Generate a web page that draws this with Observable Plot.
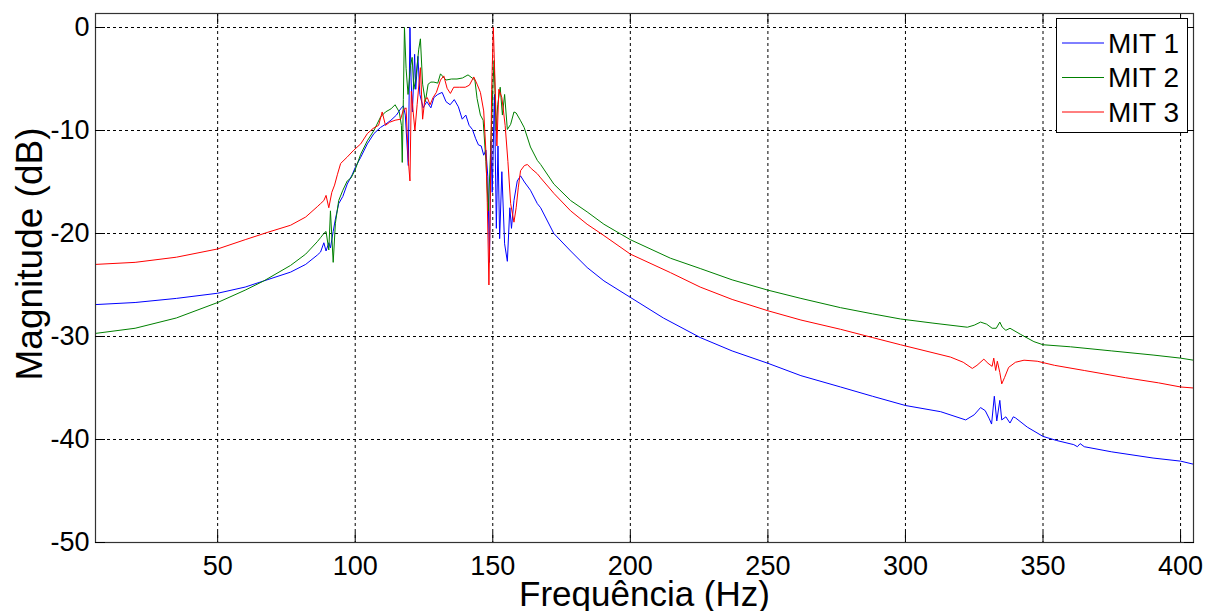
<!DOCTYPE html>
<html><head><meta charset="utf-8">
<script src="https://cdn.jsdelivr.net/npm/d3@7"></script>
<script src="https://cdn.jsdelivr.net/npm/@observablehq/plot@0.6"></script>
<style>
body{margin:0;background:#fff;}
#wrap{position:relative;width:1214px;height:611px;overflow:hidden;font-family:Arial,"Liberation Sans",sans-serif;}
#wrap svg{display:block;}
</style></head><body><div id="wrap"></div>
<script>
const seriesNames = ["MIT 1", "MIT 2", "MIT 3"];
const seriesColors = ["#0000ff", "#008000", "#ff0000"];
const xTicks = [50, 100, 150, 200, 250, 300, 350, 400];
const yTicks = [-50, -40, -30, -20, -10, 0];
const xLabel = "Frequência (Hz)";
const yLabel = "Magnitude (dB)";

const freqMIT1 = [5.6,20,35,50,60,66.8,76.5,82,86.2,87.4,88.6,89.4,90.4,91.0,92.0,92.8,94.0,95.5,97.1,98.9,100,102,104.4,106.8,109.2,111,113,115,116.5,117.5,118.2,119.3,119.9,120.3,120.8,121.6,122.0,122.8,123.5,124.7,126,127.5,128.6,130,131.6,133,134.5,136,137.5,138.9,140.2,141.4,142.6,143.8,144.8,145.8,146.7,147.5,148.2,148.8,149.3,149.8,150.6,151.3,151.9,152.5,153.3,154.3,155.3,156.2,156.8,157.7,158.9,160.1,161.5,163.7,166.2,167.4,172.2,178.3,184.3,190.4,200,212,225.4,237,250,262,276.4,288,300,312.8,321.9,325,327.3,329,330.5,331.3,332.3,333.2,334.3,335,336.5,338,339.2,340,344.3,350,355,361.2,362.5,363.5,365,375,390,400,404.7];
const magMIT1 = [-26.9,-26.7,-26.3,-25.8,-25.2,-24.6,-23.75,-23.0,-22.1,-21.8,-20.9,-21.7,-20.9,-21.4,-19.8,-18.6,-17.1,-16.4,-15.2,-14.3,-13.6,-12.6,-11.3,-10.3,-9.7,-9.4,-9.0,-8.5,-7.9,-7.6,-8.5,-13.4,0.0,-5.0,-8.2,-2.6,-6.0,-2.8,-6.5,-7.8,-7.2,-7.8,-6.8,-6.5,-6.3,-7.2,-7.5,-7.0,-7.7,-8.9,-8.5,-9.5,-9.9,-10.8,-11.4,-11.5,-12.4,-11.9,-14.5,-22.8,-11.0,-16.0,-6.5,-19.5,-11.5,-20.5,-14.0,-21.0,-22.7,-17.5,-19.5,-16.8,-14.9,-14.4,-15.0,-15.8,-17.1,-17.5,-20.0,-21.7,-23.3,-24.6,-26.2,-28.2,-30.1,-31.4,-32.6,-33.8,-34.9,-35.8,-36.7,-37.3,-38.1,-37.6,-36.9,-37.2,-38.0,-38.5,-35.8,-38.2,-36.2,-38.1,-37.8,-38.4,-37.8,-37.9,-38.8,-39.7,-40.1,-40.5,-40.7,-40.4,-40.7,-41.2,-41.8,-42.1,-42.4];

const freqMIT2 = [5.6,20,35,50,60,66.8,76.5,82,86.2,87.4,88.6,89.4,90.4,91.0,92.0,92.8,94.0,95.5,97.1,98.5,100,102,104.4,106.8,109.2,111,113,114.5,116,116.8,117.1,117.5,117.9,118.5,119.2,120.1,120.7,121.3,122,123.1,123.7,124.5,125.5,126.5,127.5,128.6,130,131,133,135,137,139,141,142.5,143.5,144.3,145.5,146.5,147.5,148.4,149.2,150.0,150.5,151.2,151.8,152.7,153.5,154.3,155.3,156.5,157.7,158.5,160,161.4,163.7,166.2,167.4,172.2,178.3,184.3,190.4,200,214.6,225.4,237,250,262,276.4,288,298.2,310,322.5,325,327.3,329.5,331.5,333,334.3,335.2,336.5,338,341.9,346.7,350,360,375,390,400,404.7];
const magMIT2 = [-29.7,-29.2,-28.2,-26.7,-25.5,-24.6,-23.1,-22.0,-20.8,-20.4,-20.0,-19.8,-21.6,-17.8,-22.8,-19.0,-16.8,-15.8,-14.9,-14.6,-13.8,-12.3,-11.0,-10.0,-8.7,-8.2,-7.9,-7.5,-8.2,-9.5,-13.1,-7.0,0.0,-4.0,-6.5,-3.7,-2.9,-6.0,-5.0,-2.1,-1.1,-5.5,-7.2,-5.5,-5.3,-5.3,-5.4,-4.5,-5.1,-5.0,-5.0,-4.9,-4.6,-4.9,-5.1,-6.9,-8.5,-9.0,-13.0,-17.8,-12.0,-6.0,-3.2,-10.0,-7.5,-5.8,-8.5,-6.5,-9.9,-9.4,-8.2,-8.3,-9.0,-9.7,-11.6,-12.9,-13.3,-15.2,-16.8,-17.9,-19.1,-20.6,-22.4,-23.4,-24.5,-25.5,-26.3,-27.2,-27.8,-28.3,-28.7,-29.1,-28.9,-28.6,-28.8,-29.2,-29.2,-28.6,-29.1,-29.4,-29.2,-29.8,-30.5,-30.8,-31.0,-31.4,-31.8,-32.1,-32.3];

const freqMIT3 = [5.6,20,35,50,60,68,76.5,82,86.2,87.4,88.6,89.4,90.4,91.5,92.5,93.5,94.7,97,99.5,102,104.4,106.5,108.5,109.8,111,112.5,114.5,116.5,117.5,118.5,119.3,119.9,120.4,121,121.7,122.5,123.7,124.5,125.3,126.2,127.2,128.3,129.5,131,132.2,133.4,134.6,135.8,138,140,141.5,143.1,144.3,145.5,146.7,147.5,148.0,148.6,149.0,149.6,150.2,150.8,151.5,152.2,153.3,154.5,155.5,156.5,157.7,158.5,159.3,160.1,161.5,162.6,164,166.2,167.4,172.2,178.3,184.3,190.4,200,214.6,225.4,237,250,262,276.4,288,298.2,316.4,321,324.3,326,328.5,330,331.5,332.1,332.8,333.4,334.3,335,336,337.5,340,343.1,347.9,354.2,365,380,392,400,404.7];
const magMIT3 = [-23.0,-22.8,-22.3,-21.5,-20.6,-19.9,-19.2,-18.4,-17.4,-17.1,-16.8,-16.3,-17.5,-16.0,-15.3,-14.3,-13.2,-12.6,-11.9,-11.3,-10.3,-9.8,-9.5,-8.2,-9.5,-9.2,-9.0,-8.9,-8.0,-7.8,-12.9,-14.9,-6.2,-8.0,-10.0,-7.5,-3.9,-8.9,-7.0,-6.8,-7.5,-6.8,-6.3,-5.1,-4.7,-5.9,-6.4,-5.8,-5.8,-5.8,-5.6,-4.8,-5.5,-6.3,-8.1,-12.0,-17.0,-25.0,-19.0,-6.0,0.0,-5.2,-11.5,-6.0,-6.8,-9.5,-13.0,-17.1,-18.9,-17.5,-15.5,-13.9,-13.4,-13.3,-13.7,-14.2,-14.6,-16.1,-17.8,-19.1,-20.2,-22.0,-23.8,-25.2,-26.4,-27.5,-28.4,-29.3,-30.1,-30.8,-32.0,-32.5,-33.1,-32.8,-32.2,-32.6,-32.9,-32.1,-33.3,-32.4,-33.5,-34.6,-34.0,-33.0,-32.5,-32.3,-32.4,-32.8,-33.3,-34.0,-34.5,-34.9,-35.0];

const freqs = [freqMIT1, freqMIT2, freqMIT3];
const mags = [magMIT1, magMIT2, magMIT3];
const rows = [];
seriesNames.forEach((name, i) => {
  freqs[i].forEach((f, j) => rows.push({series: name, f, m: mags[i][j]}));
});

const font = 'Arial, "Liberation Sans", sans-serif';
const chart = Plot.plot({
  width: 1214, height: 611,
  marginLeft: 95, marginRight: 21, marginTop: 13, marginBottom: 69,
  style: {fontFamily: font, fontSize: "27px", color: "#000", background: "#fff", overflow: "hidden"},
  x: {domain: [5.6, 404.7]},
  y: {domain: [-50, 1.36]},
  color: {domain: seriesNames, range: seriesColors},
  marks: [
    Plot.gridX(xTicks, {stroke: "#000", strokeOpacity: 1, strokeWidth: 1, strokeDasharray: "3,3"}),
    Plot.gridY(yTicks, {stroke: "#000", strokeOpacity: 1, strokeWidth: 1, strokeDasharray: "3,3"}),
    Plot.line(rows, {x: "f", y: "m", z: "series", stroke: "series", strokeWidth: 1}),
    Plot.frame({stroke: "#333", strokeWidth: 1.2}),
    Plot.axisX(xTicks, {anchor: "bottom", tickSize: -10, tickPadding: 23, label: null, fontSize: 27, tickFormat: d => String(d)}),
    Plot.axisX(xTicks, {anchor: "top", tickSize: -10, tickFormat: () => "", label: null}),
    Plot.axisY(yTicks, {anchor: "left", tickSize: -10, tickPadding: 16, label: null, fontSize: 27, tickFormat: d => String(d)}),
    Plot.axisY(yTicks, {anchor: "right", tickSize: -10, tickFormat: () => "", label: null}),
    Plot.text([xLabel], {frameAnchor: "bottom", dy: 52, lineAnchor: "middle", textAnchor: "middle", fontSize: 35, text: d => d}),
    Plot.text([yLabel], {frameAnchor: "left", dx: -65, dy: -24, rotate: -90, lineAnchor: "middle", textAnchor: "middle", fontSize: 37, text: d => d})
  ]
});
const wrap = document.getElementById("wrap");
wrap.appendChild(chart);

// legend overlay
const leg = d3.select(wrap).append("svg")
  .attr("width", 1214).attr("height", 611)
  .style("position", "absolute").style("left", "0px").style("top", "0px")
  .style("font-family", font);
leg.append("rect").attr("x", 1056.5).attr("y", 18.5).attr("width", 131).attr("height", 114)
  .attr("fill", "#fff").attr("stroke", "#000").attr("stroke-width", 1);
seriesNames.forEach((name, i) => {
  const cy = 43 + i * 34.5;
  leg.append("line").attr("x1", 1062).attr("x2", 1104).attr("y1", cy).attr("y2", cy)
    .attr("stroke", seriesColors[i]).attr("stroke-width", 1);
  leg.append("text").attr("x", 1108).attr("y", cy).attr("dy", "0.35em")
    .attr("font-size", 28).attr("fill", "#000").text(name);
});
</script>
</body></html>
